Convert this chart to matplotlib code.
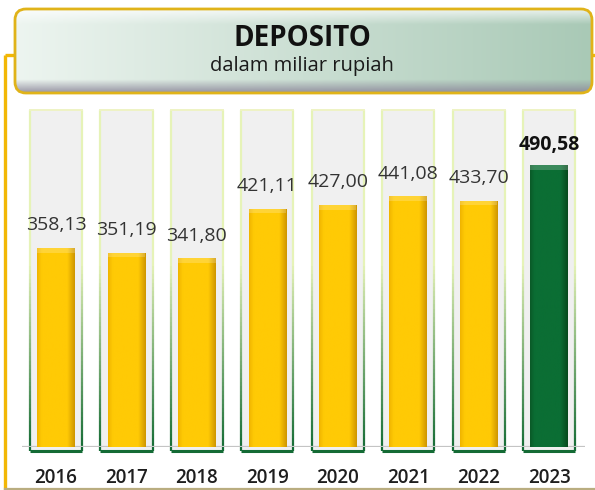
import numpy as np
import matplotlib.pyplot as plt
from matplotlib.patches import FancyBboxPatch, Rectangle
from matplotlib.collections import LineCollection
from matplotlib.colors import to_rgb

# data
years = ["2016", "2017", "2018", "2019", "2020", "2021", "2022", "2023"]
deposito = [358.13, 351.19, 341.80, 421.11, 427.00, 441.08, 433.70, 490.58]
highlight = "2023"
track_top = 579      # height of the grey background "tube"
axis_min = 40

title = "DEPOSITO"
subtitle = "dalam miliar rupiah"

FONT = ["Open Sans", "DejaVu Sans"]
plt.rcParams["font.family"] = FONT

W, H = 595, 490
fig = plt.figure(figsize=(W / 100, H / 100), dpi=100)

# ---- decoration layer in pixel coords ----
deco = fig.add_axes([0, 0, 1, 1], zorder=0)
deco.set_xlim(0, W)
deco.set_ylim(H, 0)
deco.axis("off")

gold = "#f2b705"
deco.plot([5, 5], [55, 490], color=gold, lw=2.4, solid_capstyle="butt")
deco.plot([5, 16], [55, 55], color=gold, lw=2.4, solid_capstyle="butt")
deco.plot([590, 595], [55, 55], color=gold, lw=2.4, solid_capstyle="butt")
deco.plot([5, 595], [488.5, 488.5], color="#b9ad80", lw=1.6)

# title box with gradient
bx0, bx1, by0, by1 = 15, 592, 9, 93
box = FancyBboxPatch((bx0, by0), bx1 - bx0, by1 - by0,
                     boxstyle="round,pad=0,rounding_size=11",
                     facecolor="none", edgecolor="#e0b319", lw=2.0, zorder=3)
deco.add_patch(box)
nx, ny = 300, 120
t = np.linspace(0, 1, nx)[None, :, None]
c_left = np.array(to_rgb("#edf5f0"))
c_right = np.array(to_rgb("#a9c9b6"))
grad = (1 - t) * c_left + t * c_right
grad = np.repeat(grad, ny, axis=0)
v = np.linspace(0, 1, ny)[:, None, None]
white = np.ones(3)
shade = np.array(to_rgb("#8a8598"))
hi = np.clip(1 - v / 0.18, 0, 1) * 0.75
lo = np.clip((v - 0.84) / 0.16, 0, 1) * 0.85
grad = grad * (1 - hi) + white * hi
grad = grad * (1 - lo) + shade * lo
img = deco.imshow(grad, extent=(bx0, bx1, by1, by0), aspect="auto", zorder=2)
img.set_clip_path(box)
deco.set_xlim(0, W)
deco.set_ylim(H, 0)

deco.text(302, 38, title, ha="center", va="center", fontsize=20,
          fontweight="bold", color="#111111", zorder=4)
deco.text(302, 66, subtitle, ha="center", va="center", fontsize=14.5,
          color="#1a1a1a", zorder=4)

# ---- chart ----
ax = fig.add_axes([22 / W, 0.0876, 563 / W, 0.7142], zorder=1)
ax.patch.set_alpha(0)
ax.set_ylim(axis_min, 600)
ax.set_xlim(-0.483, 7.511)
x = np.arange(len(years))
bg_w, fg_w = 0.74, 0.53

dark_g = np.array(to_rgb("#146b35"))
light_g = np.array(to_rgb("#e6f3b8"))
base_bottom = axis_min - 6.5

for xi in x:
    ax.add_patch(Rectangle((xi - bg_w / 2, base_bottom), bg_w, track_top - base_bottom,
                           facecolor="#f0f0f0", edgecolor="none", zorder=1, clip_on=False))
    # gradient side edges
    ys = np.linspace(base_bottom, track_top, 80)
    segs, cols = [], []
    for side in (xi - bg_w / 2, xi + bg_w / 2):
        for a, b in zip(ys[:-1], ys[1:]):
            segs.append([(side, a), (side, b)])
            f = np.clip((a - base_bottom) / (330 - base_bottom), 0, 1)
            cols.append(tuple((1 - f) * dark_g + f * light_g))
    ax.add_collection(LineCollection(segs, colors=cols, linewidths=1.6, zorder=2,
                                     clip_on=False))
    ax.plot([xi - bg_w / 2, xi + bg_w / 2], [track_top, track_top],
            color="#eef3c4", lw=1.4, zorder=2)
    ax.plot([xi - bg_w / 2, xi + bg_w / 2], [base_bottom, base_bottom],
            color="#146b35", lw=2.2, zorder=2, clip_on=False, solid_capstyle="butt")

ax.axhline(axis_min, color="#c4c4c4", lw=1.6, zorder=3)

for xi, yr, val in zip(x, years, deposito):
    if yr == highlight:
        edge, mid, dark = "#0a5a28", "#0b6e34", "#064a1d"
    else:
        edge, mid, dark = "#f0b400", "#ffca05", "#cf9600"
    bar = ax.bar(xi, val - axis_min, bottom=axis_min, width=fg_w,
                 color="none", edgecolor="none", zorder=4)[0]
    gx = np.linspace(0, 1, 80)[:, None]
    e, m, d = (np.array(to_rgb(c)) for c in (edge, mid, dark))
    g = np.where(gx < 0.12, e + (m - e) * gx / 0.12,
                 np.where(gx < 0.8, m + 0 * gx, m + (d - m) * (gx - 0.8) / 0.2))
    gimg = ax.imshow(g[None, :, :], extent=(xi - fg_w / 2, xi + fg_w / 2, axis_min, val),
                     aspect="auto", zorder=4)
    gimg.set_clip_path(bar)
    # bevel top
    cap = 7
    ax.add_patch(Rectangle((xi - fg_w / 2, val - cap), fg_w, cap,
                           facecolor="white", alpha=0.2, edgecolor="none", zorder=5))
    label = f"{val:.2f}".replace(".", ",")
    if yr == highlight:
        ax.annotate(label, (xi, val), xytext=(0, 15), textcoords="offset points",
                    ha="center", va="center", fontsize=14, fontweight="bold",
                    color="#111111", zorder=6)
    else:
        ax.annotate(label, (xi, val), xytext=(0, 16.5), textcoords="offset points",
                    ha="center", va="center", fontsize=14, color="#333333", zorder=6)

ax.set_xticks(x, years)
ax.tick_params(axis="x", length=0, pad=15, labelsize=13.5, labelcolor="#1e1e1e")
for lbl in ax.get_xticklabels():
    lbl.set_fontweight("semibold")
ax.set_yticks([])
for s in ax.spines.values():
    s.set_visible(False)
ax.set_xlim(-0.483, 7.511)
ax.set_ylim(axis_min, 600)

fig.savefig("out.png", dpi=100)
